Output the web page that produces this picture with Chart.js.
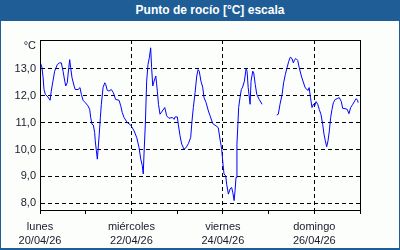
<!DOCTYPE html>
<html>
<head>
<meta charset="utf-8">
<script src="https://cdn.jsdelivr.net/npm/chart.js@4"></script>
<style>
  html, body { margin: 0; padding: 0; background: #fff; }
  #frame {
    position: relative; width: 400px; height: 250px; box-sizing: border-box;
    background: #fbfefb; border: 1px solid #1e5d95; border-bottom-width: 2px;
  }
  #title {
    position: absolute; left: -1px; top: -1px; width: 400px; height: 21px;
    background: #1e5d95; color: #fff; font: bold 12px "Liberation Sans", sans-serif;
    line-height: 21px; text-align: center; text-indent: 20px;
  }
  #chart { position: absolute; left: -1px; top: -1px; }
</style>
</head>
<body>
<div id="frame">
  <canvas id="chart" width="400" height="250"></canvas>
  <div id="title">Punto de rocío [°C] escala</div>
</div>
<script>
// hours since lunes 20/04/26 00:00
const hours = [
  0, 1, 1.6, 2.1, 2.8, 4.2, 5.3, 5.9, 6.8, 7.7, 9.1, 10.3, 11.2, 12.1, 13, 13.5, 14.3, 15.1, 15.6, 16.1,
  16.8, 17.9, 18.5, 20, 21, 21.7, 22.6, 23.8, 25.2, 26.1, 26.6, 27.3, 28, 28.7, 29, 29.6, 30.1, 30.5, 31.1, 31.7,
  32.2, 33.1, 34, 34.5, 35.3, 36.2, 37.4, 38.5, 39.7, 41.5, 42.4, 43.2, 44.1, 45.8, 47.6, 49.4, 50.8, 52, 52.9, 53.7,
  54.2, 54.6, 55.3, 56, 56.7, 57.4, 58.1, 58.6, 59.2, 59.9, 60.8, 61.6, 62.2, 63, 64.2, 65.5, 66.5, 67.7, 69.5, 70.4,
  70.9, 72.1, 72.6, 73.5, 74.4, 75.6, 76.7, 77.9, 79.1, 79.8, 80.5, 81.4, 82.3, 83, 83.6, 84.5, 85.4, 86.1, 87.2, 88.4,
  89.3, 90.7, 92.4, 93.6, 94.5, 95.4, 95.9, 96.6, 97.5, 98, 98.9, 99.8, 100.6, 101.2, 101.9, 102.4, 102.9, 103.4, 103.9, 104.3,
  105, 105.7, 106.4, 107.3, 108.2, 108.7, 109.3, 110.3, 110.8, 111.7, 112.2, 113, 113.8, 115.1, 116.6, 120,
  124.3, 125.1, 126, 127.1, 127.9, 128.8, 129.7, 130.6, 131.4, 132.3, 133, 133.7, 134.4, 135.3, 136.1, 137.2, 138.2, 139.1, 140, 140.8,
  141.3, 142, 142.8, 143.5, 144.2, 144.9, 145.8, 146.6, 147.5, 148.4, 149.1, 149.8, 150.5, 151.2, 151.9, 152.6, 153.3, 154, 155, 156.1,
  157.1, 158.2, 158.9, 160.1, 161.3, 162.2, 163.1, 164.2, 165.2, 166, 166.7, 167
];
const dewPoint = [
  13.26, 13.06, 12.69, 12.23, 12.05, 11.95, 11.83, 12.17, 12.54, 12.91, 13.16, 13.22, 13.22, 12.91, 12.54, 12.36, 12.48, 13.04, 13.34, 13.04,
  12.67, 12.36, 12.23, 12.23, 12.3, 12.05, 11.83, 11.74, 11.62, 11.49, 11.19, 10.94, 10.91, 10.63, 10.32, 9.95, 9.64, 10.01, 10.57, 11.19,
  11.68, 12.3, 12.48, 12.42, 12.2, 12.17, 12.23, 12.11, 11.86, 11.83, 11.62, 11.37, 11.19, 11.0, 10.91, 10.69, 10.44, 10.07, 9.64, 9.4,
  9.09, 9.83, 10.94, 12.54, 13.16, 13.41, 13.78, 13.04, 12.36, 12.54, 12.73, 12.17, 11.68, 11.31, 11.43, 11.56, 11.25, 11.16, 11.19, 11.12,
  11.21, 11.21, 10.94, 10.51, 10.2, 10.01, 10.07, 10.22, 10.44, 11.06, 11.56, 12.11, 12.73, 12.97, 12.91, 12.54, 12.32, 11.93, 11.74, 11.43,
  11.25, 10.96, 10.88, 10.81, 10.38, 10.01, 9.58, 9.09, 9.02, 8.71, 8.34, 8.53, 8.59, 8.41, 8.1, 8.47, 8.96, 10.2, 10.94, 11.56,
  11.93, 12.23, 12.32, 12.54, 13.01, 12.91, 12.3, 11.68, 12.54, 12.91, 12.85, 12.42, 12.05, 11.86, 11.68, null,
  11.28, 11.31, 11.68, 12.05, 12.48, 12.79, 13.04, 13.28, 13.43, 13.38, 13.22, 13.34, 13.38, 13.31, 13.04, 12.73, 12.51, 12.32, 12.23, 12.2,
  12.3, 11.93, 11.56, 11.68, 11.62, 11.78, 11.68, 11.49, 11.31, 10.94, 10.57, 10.32, 10.1, 10.32, 10.69, 11.19, 11.49, 11.74, 11.86, 11.89,
  11.93, 11.78, 11.53, 11.52, 11.49, 11.33, 11.56, 11.68, 11.8, 11.89, 11.83, 11.74
];
const dayLabels = { 0: ['lunes', '20/04/26'], 48: ['miércoles', '22/04/26'], 96: ['viernes', '24/04/26'], 144: ['domingo', '26/04/26'] };
const dayTicks = [0, 24, 48, 72, 96, 120, 144, 168];
const yTicks = [8, 9, 10, 11, 12, 13];
const yUnit = '°C';
const yUnitAt = 13.85;

const points = hours.map((h, i) => ({ x: h, y: dewPoint[i] }));

// black frame round the plot area
const frameBox = {
  id: 'frameBox',
  afterDraw(chart) {
    const a = chart.chartArea, ctx = chart.ctx;
    ctx.save();
    ctx.strokeStyle = '#000';
    ctx.lineWidth = 1;
    ctx.strokeRect(a.left + 0.5, a.top + 0.5, a.right - a.left, a.bottom - a.top);
    ctx.restore();
  }
};

const font = { family: '"Liberation Sans", sans-serif', size: 11, lineHeight: '14px' };

new Chart(document.getElementById('chart'), {
  type: 'line',
  data: {
    datasets: [{
      data: points,
      borderColor: '#0000ff',
      borderWidth: 1,
      pointRadius: 0,
      tension: 0,
      spanGaps: false
    }]
  },
  options: {
    responsive: false,
    animation: false,
    layout: { padding: { left: 0, top: 40, right: 40, bottom: 0 } },
    plugins: { legend: { display: false }, tooltip: { enabled: false } },
    scales: {
      x: {
        type: 'linear', min: 0, max: 168,
        afterBuildTicks: s => { s.ticks = dayTicks.map(v => ({ value: v })); },
        afterFit: s => { s.height = 40; },
        grid: {
          color: c => (dayLabels[c.tick && c.tick.value] && c.tick.value > 0) ? '#000' : 'rgba(0,0,0,0)',
          tickColor: '#000', tickLength: 4, lineWidth: 1
        },
        border: { color: '#000', dash: [4, 3] },
        ticks: {
          autoSkip: false, maxRotation: 0, padding: 6, color: '#1a1a2a', font: font,
          callback: v => dayLabels[v] || ''
        }
      },
      y: {
        min: 7.75, max: 14.07,
        afterBuildTicks: s => { s.ticks = yTicks.concat([yUnitAt]).map(v => ({ value: v })); },
        afterFit: s => { s.width = 40; },
        grid: {
          color: c => (c.tick && c.tick.value === yUnitAt) ? 'rgba(0,0,0,0)' : '#000',
          drawTicks: false, lineWidth: 1
        },
        border: { color: '#000', dash: [4, 3] },
        ticks: {
          padding: 4, color: '#1a1a2a', font: font,
          callback: v => v === yUnitAt ? yUnit : v.toFixed(1).replace('.', ',')
        }
      }
    }
  },
  plugins: [frameBox]
});
</script>
</body>
</html>
